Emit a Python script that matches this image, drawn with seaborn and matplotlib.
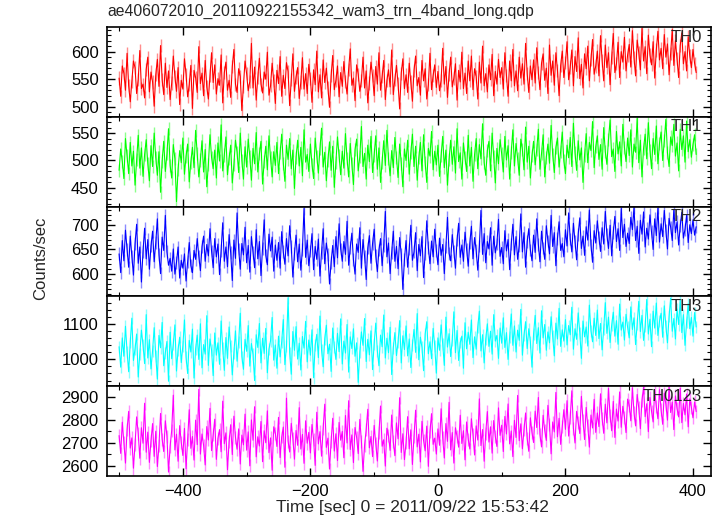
import numpy as np
import pandas as pd
import matplotlib
matplotlib.use("Agg")
import matplotlib.pyplot as plt
from matplotlib.ticker import MultipleLocator
import seaborn as sns

# light curve bins (start time and width in seconds), 20 bins per row = 50 s
time_start = -500
time_step = 2.5

th0 = [552, 519, 574, 561, 530, 597, 538, 509, 546, 583, 571, 524, 550, 602, 533, 541, 516, 568, 590, 527,
       563, 545, 501, 558, 586, 537, 611, 549, 522, 579, 535, 565, 513, 543, 592, 555, 528, 571, 504, 548,
       532, 587, 559, 518, 540, 575, 497, 566, 553, 526, 609, 542, 561, 520, 584, 536, 514, 557, 598, 544,
       576, 523, 551, 539, 594, 507, 562, 581, 530, 548, 517, 573, 604, 541, 526, 569, 555, 493, 537, 583,
       560, 529, 546, 615, 534, 572, 512, 553, 588, 541, 525, 563, 550, 599, 521, 538, 579, 547, 506, 566,
       542, 591, 519, 557, 533, 580, 564, 502, 549, 596, 528, 554, 571, 515, 545, 589, 532, 560, 524, 577,
       551, 508, 567, 540, 601, 527, 558, 516, 585, 544, 570, 535, 499, 556, 593, 531, 548, 574, 518, 562,
       537, 582, 546, 523, 568, 605, 539, 552, 511, 576, 559, 528, 547, 590, 534, 565, 507, 543, 581, 556,
       520, 573, 541, 598, 530, 555, 584, 513, 548, 567, 536, 603, 522, 550, 575, 542, 496, 561, 587, 533,
       558, 526, 579, 545, 510, 566, 592, 538, 553, 521, 584, 547, 569, 514, 540, 597, 531, 557, 576, 535,
       564, 529, 548, 606, 541, 573, 517, 559, 590, 536, 552, 578, 512, 566, 545, 599, 533, 561, 524, 583,
       547, 592, 531, 569, 555, 514, 581, 543, 610, 538, 560, 527, 576, 549, 595, 520, 564, 541, 586, 553,
       571, 532, 598, 556, 519, 583, 547, 604, 538, 565, 529, 590, 552, 578, 541, 615, 560, 526, 574, 549,
       585, 543, 607, 562, 531, 579, 596, 548, 570, 524, 612, 557, 583, 539, 598, 566, 520, 575, 601, 553,
       580, 618, 549, 572, 603, 538, 591, 564, 625, 551, 577, 534, 596, 569, 610, 547, 586, 622, 559, 574,
       601, 556, 629, 584, 547, 612, 571, 598, 540, 590, 633, 562, 578, 617, 553, 600, 581, 626, 565, 594,
       613, 572, 638, 589, 556, 621, 598, 567, 642, 583, 609, 560, 630, 594, 576, 618, 552, 603, 637, 585,
       606, 569, 631, 590, 614, 558, 597, 640, 575, 620, 587, 553, 611, 634, 578, 600, 565, 627, 592, 571,
       604, 579, 562]

th1 = [482, 521, 498, 467, 540, 509, 476, 533, 490, 517, 455, 502, 546, 486, 523, 471, 511, 538, 494, 463,
       527, 489, 550, 505, 473, 516, 442, 499, 535, 480, 512, 558, 491, 468, 529, 503, 425, 484, 518, 496,
       541, 475, 508, 530, 461, 497, 524, 487, 555, 513, 470, 501, 536, 479, 520, 452, 493, 547, 506, 485,
       519, 468, 532, 499, 565, 481, 510, 543, 474, 504, 528, 459, 492, 537, 515, 478, 550, 500, 466, 525,
       488, 539, 507, 464, 522, 494, 551, 479, 512, 535, 457, 498, 526, 483, 545, 505, 470, 516, 491, 533,
       476, 514, 548, 495, 462, 528, 502, 540, 485, 519, 449, 506, 537, 490, 524, 472, 556, 497, 511, 480,
       530, 493, 467, 541, 508, 477, 522, 559, 488, 515, 463, 501, 534, 482, 526, 451, 496, 543, 509, 474,
       517, 486, 549, 503, 470, 531, 494, 456, 520, 539, 481, 507, 562, 489, 513, 466, 528, 498, 544, 478,
       510, 545, 484, 523, 460, 497, 536, 491, 555, 503, 472, 518, 487, 542, 506, 469, 530, 495, 452, 521,
       500, 537, 475, 514, 548, 489, 526, 464, 505, 533, 481, 547, 496, 460, 522, 508, 553, 483, 517, 492,
       528, 471, 509, 544, 487, 519, 455, 502, 537, 493, 525, 477, 558, 498, 514, 466, 532, 505, 480, 546,
       490, 524, 462, 511, 540, 485, 529, 503, 567, 496, 473, 518, 535, 481, 550, 507, 459, 522, 494, 538,
       512, 479, 544, 501, 527, 466, 515, 556, 490, 531, 504, 473, 539, 520, 483, 561, 497, 526, 468, 509,
       535, 492, 520, 557, 484, 513, 547, 470, 506, 530, 495, 564, 511, 478, 524, 541, 488, 517, 552, 499,
       476, 528, 505, 542, 489, 568, 514, 482, 536, 501, 523, 460, 510, 549, 496, 533, 518, 571, 487, 525,
       545, 502, 529, 484, 560, 516, 493, 538, 574, 507, 521, 480, 553, 512, 534, 490, 566, 524, 498, 541,
       509, 556, 488, 530, 515, 577, 496, 537, 470, 522, 548, 503, 569, 519, 485, 540, 511, 563, 494, 531,
       552, 500, 536, 575, 514, 489, 543, 527, 566, 508, 532, 481, 557, 520, 545, 497, 572, 516, 538, 506,
       529, 547, 511]

th2 = [641, 603, 668, 627, 689, 650, 614, 677, 636, 598, 662, 701, 622, 655, 584, 646, 693, 631, 670, 610,
       657, 687, 625, 664, 712, 639, 601, 675, 648, 719, 645, 618, 632, 606, 651, 600, 624, 655, 592, 628,
       612, 641, 586, 625, 664, 617, 603, 648, 630, 672, 636, 607, 656, 677, 626, 660, 637, 692, 647, 613,
       672, 635, 661, 599, 648, 704, 626, 655, 615, 680, 643, 587, 669, 632, 724, 651, 610, 662, 639, 695,
       623, 658, 604, 676, 644, 613, 690, 631, 666, 597, 652, 710, 638, 619, 681, 647, 675, 606, 659, 628,
       664, 612, 686, 645, 620, 672, 637, 698, 656, 594, 641, 679, 625, 661, 608, 650, 733, 634, 669, 617,
       647, 682, 609, 656, 630, 671, 596, 643, 692, 621, 663, 639, 580, 624, 658, 615, 676, 633, 702, 651,
       626, 666, 640, 707, 618, 654, 683, 629, 600, 661, 644, 694, 612, 670, 636, 589, 653, 678, 622, 662,
       691, 637, 605, 649, 672, 617, 658, 727, 635, 663, 601, 644, 687, 626, 656, 611, 674, 640, 569, 630,
       668, 614, 651, 699, 628, 645, 684, 607, 660, 637, 676, 593, 642, 708, 654, 621, 667, 635, 691, 648,
       619, 673, 638, 660, 601, 655, 715, 642, 627, 680, 646, 612, 669, 703, 634, 659, 626, 685, 650, 616,
       663, 697, 631, 674, 648, 608, 657, 729, 640, 682, 623, 666, 651, 694, 618, 677, 643, 661, 711, 636,
       654, 621, 688, 647, 670, 609, 661, 701, 639, 676, 630, 658, 722, 645, 684, 614, 666, 692, 649, 627,
       679, 644, 712, 660, 625, 687, 653, 630, 698, 667, 641, 719, 656, 684, 617, 673, 706, 648, 662, 635,
       690, 657, 724, 671, 645, 703, 666, 629, 681, 714, 652, 677, 638, 696, 669, 730, 659, 624, 688, 663,
       708, 675, 646, 694, 661, 727, 680, 652, 699, 637, 685, 717, 666, 692, 648, 733, 674, 701, 656, 683,
       662, 715, 690, 735, 668, 697, 642, 709, 681, 726, 655, 693, 671, 720, 686, 650, 712, 678, 734, 665,
       702, 676, 729, 688, 651, 713, 695, 668, 731, 684, 706, 659, 698, 725, 673, 691, 719, 664, 700, 682,
       710, 679, 696]

th3 = [1036, 978, 1061, 1009, 1094, 1022, 965, 1048, 1117, 997, 1030, 1072, 950, 1015, 1083, 1041, 988, 1127, 1004, 1056,
       973, 1025, 1090, 1011, 944, 1068, 1033, 1105, 982, 1019, 1051, 938, 1077, 1002, 1044, 1098, 967, 1028, 1063, 991,
       1039, 1112, 1006, 960, 1054, 1021, 1086, 947, 1030, 1069, 1000, 1101, 976, 1042, 1015, 1124, 983, 1058, 1026, 954,
       1075, 1012, 1047, 986, 1109, 1031, 969, 1062, 1003, 1092, 1037, 956, 1018, 1081, 995, 1049, 1131, 1008, 972, 1057,
       1023, 1096, 981, 1045, 1014, 940, 1070, 1034, 1102, 990, 1060, 1017, 1088, 962, 1029, 1053, 1119, 998, 1041, 975,
       1066, 1007, 1050, 1113, 985, 1038, 1175, 1019, 958, 1079, 1026, 1093, 1001, 1046, 970, 1065, 1032, 1108, 993, 1055,
       1012, 1084, 948, 1040, 1071, 1005, 1123, 1027, 979, 1059, 1097, 1016, 1043, 966, 1089, 1035, 1000, 1074, 1022, 1115,
       987, 1052, 1018, 1099, 964, 1064, 1031, 1087, 1009, 1047, 935, 1021, 1078, 1040, 1116, 994, 1057, 1013, 1081, 971,
       1045, 1103, 1024, 982, 1069, 1036, 1126, 1004, 1060, 1019, 1091, 957, 1033, 1076, 1011, 1049, 1110, 990, 1067, 1028,
       1095, 1010, 1058, 977, 1042, 1085, 1020, 1130, 999, 1063, 1034, 968, 1072, 1107, 1016, 1050, 1002, 1088, 1039, 961,
       1061, 1026, 1098, 1044, 983, 1120, 1035, 1073, 1008, 1055, 1135, 1019, 1082, 997, 1048, 1066, 975, 1104, 1030, 1077,
       1043, 1112, 1005, 1064, 1029, 1093, 1137, 1024, 1070, 990, 1058, 1101, 1037, 1080, 1015, 1127, 1052, 1068, 1003, 1089,
       1046, 1118, 1034, 1076, 1000, 1063, 1129, 1040, 1095, 1021, 1083, 1054, 1142, 1012, 1069, 1107, 1031, 1087, 1050, 978,
       1072, 1125, 1045, 1090, 1018, 1138, 1061, 1099, 1026, 1078, 1047, 1121, 1066, 1010, 1103, 1058, 1145, 1037, 1084, 1052,
       1113, 1041, 1096, 1070, 1148, 1029, 1087, 1057, 1132, 1075, 1003, 1109, 1064, 1092, 1038, 1154, 1081, 1050, 1117, 1068,
       1140, 1059, 1102, 1027, 1086, 1161, 1074, 1120, 1048, 1097, 1134, 1066, 1110, 1043, 1157, 1083, 1106, 1055, 1128, 1091,
       1061, 1149, 1085, 1118, 1042, 1101, 1165, 1079, 1125, 1054, 1094, 1170, 1072, 1114, 1036, 1137, 1089, 1160, 1068, 1108,
       1131, 1063, 1152, 1095, 1047, 1122, 1174, 1080, 1116, 1058, 1143, 1099, 1168, 1076, 1127, 1040, 1105, 1158, 1087, 1119,
       1066, 1133, 1092]

th0123 = [2731, 2654, 2789, 2703, 2612, 2758, 2836, 2677, 2721, 2590, 2694, 2812, 2740, 2633, 2765, 2698, 2871, 2659, 2746, 2615,
          2709, 2783, 2641, 2750, 2597, 2688, 2827, 2716, 2662, 2795, 2729, 2573, 2683, 2754, 2906, 2669, 2737, 2620, 2774, 2701,
          2645, 2762, 2587, 2714, 2843, 2676, 2727, 2625, 2798, 2692, 2931, 2651, 2738, 2689, 2604, 2770, 2712, 2849, 2666, 2735,
          2802, 2628, 2719, 2757, 2661, 2880, 2696, 2743, 2583, 2706, 2778, 2649, 2815, 2724, 2672, 2760, 2608, 2733, 2691, 2824,
          2668, 2747, 2600, 2799, 2711, 2856, 2639, 2726, 2686, 2792, 2618, 2752, 2700, 2838, 2657, 2721, 2581, 2769, 2742, 2684,
          2810, 2636, 2725, 2768, 2594, 2893, 2707, 2660, 2784, 2718, 2629, 2753, 2689, 2852, 2673, 2736, 2611, 2795, 2698, 2745,
          2656, 2779, 2715, 2602, 2832, 2695, 2748, 2642, 2761, 2867, 2680, 2720, 2586, 2705, 2806, 2664, 2739, 2623, 2788, 2711,
          2749, 2635, 2818, 2699, 2882, 2671, 2734, 2614, 2766, 2723, 2653, 2801, 2706, 2576, 2690, 2757, 2845, 2678, 2727, 2640,
          2775, 2696, 2621, 2744, 2859, 2685, 2713, 2599, 2763, 2731, 2667, 2820, 2704, 2644, 2786, 2717, 2895, 2658, 2739, 2627,
          2700, 2813, 2674, 2756, 2606, 2728, 2841, 2682, 2737, 2617, 2793, 2710, 2665, 2772, 2598, 2747, 2826, 2693, 2720, 2651,
          2760, 2689, 2847, 2722, 2634, 2783, 2706, 2875, 2669, 2744, 2612, 2765, 2728, 2681, 2819, 2697, 2752, 2626, 2790, 2716,
          2673, 2804, 2735, 2647, 2773, 2712, 2890, 2688, 2757, 2620, 2741, 2835, 2703, 2769, 2655, 2796, 2727, 2684, 2851, 2732,
          2776, 2662, 2814, 2738, 2868, 2695, 2751, 2640, 2797, 2723, 2905, 2709, 2782, 2674, 2758, 2829, 2718, 2663, 2808, 2744,
          2701, 2837, 2766, 2896, 2735, 2682, 2819, 2754, 2710, 2862, 2779, 2652, 2790, 2747, 2918, 2726, 2806, 2693, 2771, 2843,
          2758, 2882, 2729, 2810, 2925, 2763, 2699, 2836, 2787, 2740, 2901, 2797, 2714, 2853, 2775, 2681, 2820, 2764, 2888, 2745,
          2829, 2770, 2912, 2805, 2741, 2867, 2786, 2935, 2818, 2752, 2879, 2723, 2846, 2794, 2920, 2767, 2858, 2811, 2744, 2889,
          2862, 2795, 2938, 2830, 2773, 2909, 2851, 2761, 2884, 2941, 2813, 2869, 2748, 2896, 2837, 2790, 2927, 2856, 2804, 2930,
          2842, 2780, 2915, 2866, 2798, 2944, 2831, 2876, 2757, 2903, 2848, 2812, 2936, 2787, 2870, 2821, 2911, 2769, 2890, 2853,
          2808, 2877, 2835]

band_names = ["TH0", "TH1", "TH2", "TH3", "TH0123"]
band_colors = ["#ff0000", "#00ff00", "#0000ff", "#00ffff", "#ff00ff"]
band_errors = [12, 12, 13, 17, 28]
band_ylims = [(482, 645), (416, 580), (555, 737), (924, 1179), (2556, 2945)]
band_major = [50, 50, 50, 100, 100]
band_minor = [10, 10, 10, 20, 50]

title = "ae406072010_20110922155342_wam3_trn_4band_long.qdp"
xlabel = "Time [sec] 0 = 2011/09/22 15:53:42"
ylabel = "Counts/sec"

sns.set_style("ticks")
plt.rcParams['font.family'] = ['Liberation Sans', 'DejaVu Sans']

fig, axes = plt.subplots(5, 1, figsize=(7.18, 5.16), dpi=100, sharex=True)
fig.subplots_adjust(left=0.149, right=0.990, top=0.948, bottom=0.0775, hspace=0)

series = [th0, th1, th2, th3, th0123]
for i, ax in enumerate(axes):
    vals = np.array(series[i], dtype=float)
    t = time_start + time_step * np.arange(len(vals))
    df = pd.DataFrame({"time": t, "rate": vals})
    col = band_colors[i]
    # lighter error bars under the line
    ax.vlines(df["time"], df["rate"] - band_errors[i], df["rate"] + band_errors[i],
              color=col, alpha=0.45, lw=1.0)
    sns.lineplot(data=df, x="time", y="rate", color=col, lw=0.8, ax=ax)
    ax.set_ylim(*band_ylims[i])
    ax.set_xlim(-519, 428)
    ax.yaxis.set_major_locator(MultipleLocator(band_major[i]))
    ax.yaxis.set_minor_locator(MultipleLocator(band_minor[i]))
    ax.xaxis.set_major_locator(MultipleLocator(200))
    ax.xaxis.set_minor_locator(MultipleLocator(100))
    ax.tick_params(which="both", direction="in", top=True, right=True,
                   labelsize=12, colors="black", pad=6)
    ax.tick_params(which="major", length=6, width=1)
    ax.tick_params(which="minor", length=3, width=0.8)
    ax.set_xlabel("")
    ax.set_ylabel("")
    for sp in ax.spines.values():
        sp.set_linewidth(1.2)
        sp.set_color("black")
    ax.text(0.985, 0.97, band_names[i], transform=ax.transAxes,
            ha="right", va="top", fontsize=12)

fig.text(0.149, 0.977, title, ha="left", va="center", fontsize=11.3)
fig.text(0.574, 0.016, xlabel, ha="center", va="center", fontsize=12.5)
fig.text(0.057, 0.5, ylabel, ha="center", va="center", rotation=90, fontsize=12)

fig.savefig("out.png", dpi=100)
